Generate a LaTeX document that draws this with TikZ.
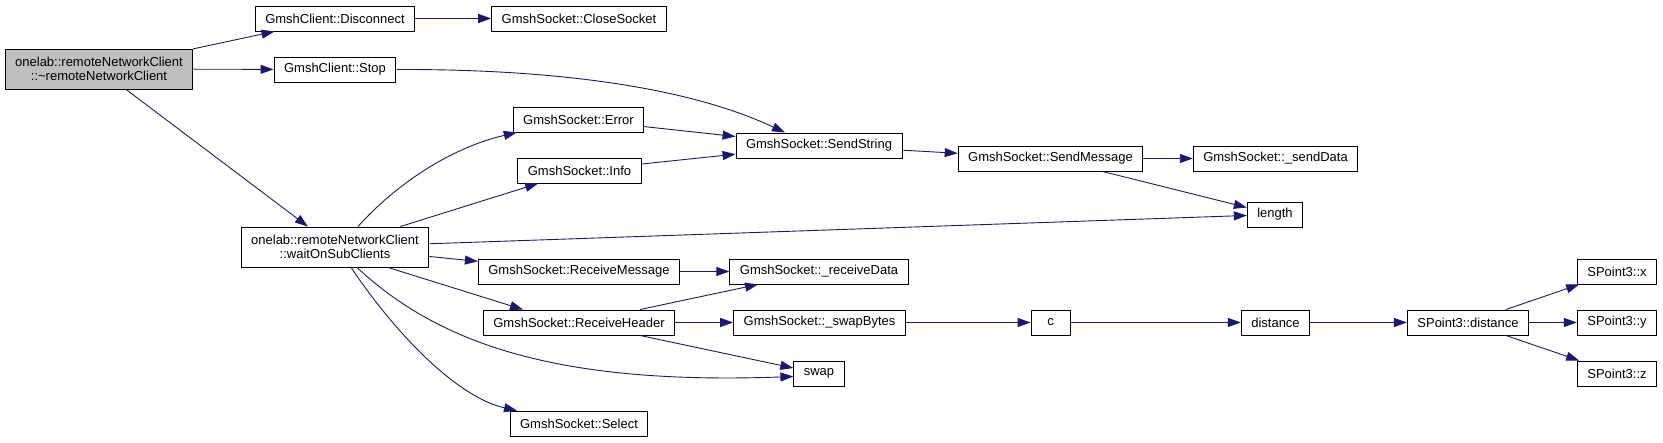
\documentclass[tikz,border=0pt]{standalone}
\usepackage{fontspec}
\setmainfont{Liberation Sans}
\usetikzlibrary{arrows.meta}
\definecolor{callblue}{RGB}{25,25,112}
\definecolor{rootgray}{RGB}{191,191,191}

\begin{document}
\begin{tikzpicture}[x=1pt, y=-1pt,
    fn/.style={draw=black, line width=0.9pt, fill=white, inner xsep=10pt, inner ysep=0pt,
        minimum width=39pt, minimum height=25pt, align=center, font=\fontsize{13}{14.5}\selectfont},
    call/.style={draw=callblue, line width=0.9pt, -{Triangle[length=13pt,width=9pt]}}]
    \useasboundingbox (0,0) rectangle (1663,443);
    % functions
    \node[fn, fill=rootgray, minimum height=40pt] (root) at (99,69) {onelab::remoteNetworkClient\\::\textasciitilde remoteNetworkClient};
    \node[fn] (disc) at (335,18.5) {GmshClient::Disconnect};
    \node[fn] (close) at (579,18.5) {GmshSocket::CloseSocket};
    \node[fn] (stop) at (335,69.5) {GmshClient::Stop};
    \node[fn] (error) at (578.5,119.5) {GmshSocket::Error};
    \node[fn] (info) at (579.5,170.5) {GmshSocket::Info};
    \node[fn] (sendstr) at (819,145.5) {GmshSocket::SendString};
    \node[fn] (sendmsg) at (1050.5,158.5) {GmshSocket::SendMessage};
    \node[fn] (senddata) at (1275.5,158.5) {GmshSocket::\_sendData};
    \node[fn] (length) at (1275,214.5) {length};
    \node[fn, minimum height=40pt] (wait) at (335,247) {onelab::remoteNetworkClient\\::waitOnSubClients};
    \node[fn] (recvmsg) at (579,271.5) {GmshSocket::ReceiveMessage};
    \node[fn] (recvdata) at (819,271.5) {GmshSocket::\_receiveData};
    \node[fn] (recvhdr) at (579,322.5) {GmshSocket::ReceiveHeader};
    \node[fn] (swapbytes) at (819.5,322.5) {GmshSocket::\_swapBytes};
    \node[fn] (swap) at (819,373.5) {swap};
    \node[fn] (select) at (579,423.5) {GmshSocket::Select};
    \node[fn] (c) at (1050.5,322.5) {c};
    \node[fn] (dist) at (1275.5,322.5) {distance};
    \node[fn] (pdist) at (1468,322.5) {SPoint3::distance};
    \foreach \q/\y in {x/271.5, y/322.5, z/373.5}
        \node[fn] (p\q) at (1617,\y) {SPoint3::\q};
    % calls
    \foreach \a/\b in {root/disc, root/stop, root/wait, disc/close, error/sendstr, info/sendstr,
        sendstr/sendmsg, sendmsg/senddata, sendmsg/length, wait/info, wait/length, wait/recvmsg,
        recvmsg/recvdata, recvhdr/recvdata, recvhdr/swapbytes, recvhdr/swap, swapbytes/c,
        c/dist, dist/pdist, pdist/px, pdist/py, pdist/pz}
        \draw[call] (\a) -- (\b);
    \draw[call] (stop.east) .. controls (560,69) and (690,88) .. ([xshift=-34pt]sendstr.north);
    \draw[call] ([xshift=23pt]wait.north) .. controls (395,185) and (450,148) .. ([xshift=4pt]error.south west);
    \draw[call] ([xshift=53pt]wait.south) -- ([xshift=-56pt]recvhdr.north);
    \draw[call] ([xshift=22pt]wait.south) .. controls (440,345) and (560,385) .. ([yshift=-3pt]swap.west);
    \draw[call] ([xshift=16pt]wait.south) .. controls (400,340) and (460,398) .. ([xshift=-62pt]select.north);
\end{tikzpicture}
\end{document}
